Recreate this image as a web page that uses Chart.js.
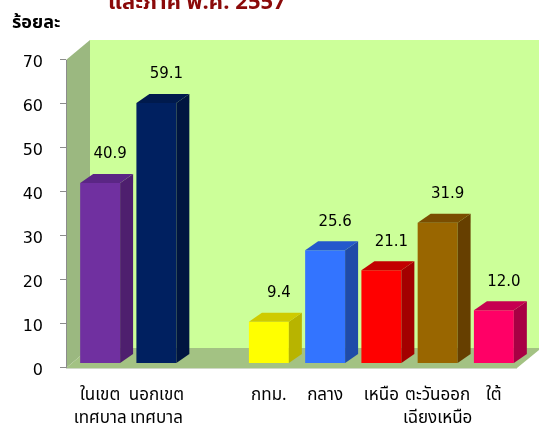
<!DOCTYPE html>
<html>
<head>
<meta charset="utf-8">
<script src="https://cdn.jsdelivr.net/npm/chart.js@4.4.1/dist/chart.umd.min.js"></script>
<style>
  html, body { margin: 0; padding: 0; background: #fff; }
  #wrap { position: relative; width: 539px; height: 426px; }
</style>
</head>
<body>
<div id="wrap"><canvas id="chart" width="539" height="426"></canvas></div>
<script>
// ── data ──────────────────────────────────────────
const labels = [['ในเขต', 'เทศบาล'], ['นอกเขต', 'เทศบาล'], '', 'กทม.', 'กลาง', 'เหนือ', ['ตะวันออก', 'เฉียงเหนือ'], 'ใต้'];
const values = [40.9, 59.1, null, 9.4, 25.6, 21.1, 31.9, 12.0];
const yTicks = [0, 10, 20, 30, 40, 50, 60, 70];

const frontColors = ['#7030A0', '#002060', null, '#FFFF00', '#3374FF', '#FF0000', '#996600', '#FF0066'];
const sideColors  = ['#4E1F6E', '#001540', null, '#B8B400', '#1F4BA8', '#A30000', '#663F00', '#A80044'];
const topColors   = ['#5B2685', '#001A4D', null, '#CFCB00', '#2458CC', '#C20000', '#7A4D00', '#C60050'];

const THAI = '"Noto Sans Thai", Tahoma, Loma, Garuda, "Noto Sans", sans-serif';
const NUM  = '"DejaVu Sans", Verdana, sans-serif';

const DX = 13, DY = 9;   // bar depth
const WX = 24, WY = 20;  // wall depth
const SHIFT = 5;         // wall front plane sits a little below the bars' base

const scene3d = {
  id: 'scene3d',
  beforeDatasetsDraw(chart) {
    const { ctx, chartArea: a, width } = chart;
    const front = a.bottom + SHIFT;
    const top = a.top + SHIFT;
    const x0 = a.left - 6;
    ctx.save();
    // back wall
    ctx.fillStyle = '#CCFF99';
    ctx.fillRect(x0 + WX, top - WY, width - (x0 + WX), front - top);
    // side wall
    ctx.fillStyle = '#9BB880';
    ctx.beginPath();
    ctx.moveTo(x0, top);
    ctx.lineTo(x0 + WX, top - WY);
    ctx.lineTo(x0 + WX, front - WY);
    ctx.lineTo(x0, front);
    ctx.closePath();
    ctx.fill();
    // floor
    ctx.fillStyle = '#A3C283';
    ctx.beginPath();
    ctx.moveTo(x0, front);
    ctx.lineTo(x0 + WX, front - WY);
    ctx.lineTo(width, front - WY);
    ctx.lineTo(width, front - WY + 2);
    ctx.lineTo(width - 22, front);
    ctx.closePath();
    ctx.fill();
    // front floor edge
    ctx.strokeStyle = '#D0D8C8';
    ctx.lineWidth = 1;
    ctx.beginPath();
    ctx.moveTo(x0, front + 0.5);
    ctx.lineTo(width - 22, front + 0.5);
    ctx.stroke();
    // value axis line + tick marks
    const ys = chart.scales.y;
    ctx.strokeStyle = '#8C8C8C';
    ctx.beginPath();
    ctx.moveTo(x0 + 0.5, top);
    ctx.lineTo(x0 + 0.5, front);
    yTicks.forEach(v => {
      const py = Math.round(ys.getPixelForValue(v)) + SHIFT - 0.5;
      ctx.moveTo(x0 - 6, py);
      ctx.lineTo(x0, py);
    });
    ctx.stroke();
    ctx.restore();
  },
  afterDatasetsDraw(chart) {
    const { ctx } = chart;
    const meta = chart.getDatasetMeta(0);
    ctx.save();
    meta.data.forEach((bar, i) => {
      if (values[i] == null) return;
      const { x, y, base, width: w } = bar.getProps(['x', 'y', 'base', 'width'], true);
      const l = x - w / 2, r = x + w / 2;
      // side face
      ctx.fillStyle = sideColors[i];
      ctx.beginPath();
      ctx.moveTo(r, y); ctx.lineTo(r + DX, y - DY); ctx.lineTo(r + DX, base - DY); ctx.lineTo(r, base);
      ctx.closePath(); ctx.fill();
      // top face
      ctx.fillStyle = topColors[i];
      ctx.beginPath();
      ctx.moveTo(l, y); ctx.lineTo(l + DX, y - DY); ctx.lineTo(r + DX, y - DY); ctx.lineTo(r, y);
      ctx.closePath(); ctx.fill();
      // value label
      ctx.fillStyle = '#000';
      ctx.font = '15px ' + NUM;
      ctx.textAlign = 'center';
      ctx.textBaseline = 'bottom';
      ctx.fillText(values[i].toFixed(1), x + 10, y - DY - 12);
    });
    // unit label + clipped title line
    ctx.font = 'bold 18px ' + THAI;
    ctx.textAlign = 'left';
    ctx.textBaseline = 'alphabetic';
    ctx.fillText('ร้อยละ', 12, 28);
    ctx.fillStyle = '#8B0A0A';
    ctx.font = 'bold 22px ' + THAI;
    ctx.fillText('และภาค พ.ศ. 2557', 108, 9);
    ctx.restore();
  }
};

new Chart(document.getElementById('chart'), {
  type: 'bar',
  data: {
    labels,
    datasets: [{
      data: values,
      backgroundColor: frontColors,
      borderWidth: 0,
      categoryPercentage: 0.71,
      barPercentage: 1
    }]
  },
  options: {
    responsive: false,
    animation: false,
    layout: { padding: { top: 55, right: 17, left: 0, bottom: 0 } },
    plugins: { legend: { display: false }, tooltip: { enabled: false }, title: { display: false } },
    scales: {
      x: {
        afterFit(s) { s.height = 63; },
        grid: { display: false, drawTicks: false },
        border: { display: false },
        ticks: { color: '#000', padding: 23, maxRotation: 0, autoSkip: false,
                 font: { family: THAI, size: 17, lineHeight: 1.3 } }
      },
      y: {
        min: 0, max: 70,
        afterFit(s) { s.width = 72; },
        afterBuildTicks(s) { s.ticks = yTicks.map(v => ({ value: v })); },
        grid: { display: false, drawTicks: false },
        border: { display: false },
        ticks: { color: '#000', padding: 29, labelOffset: 8, font: { family: NUM, size: 16 } }
      }
    }
  },
  plugins: [scene3d]
});
</script>
</body>
</html>
